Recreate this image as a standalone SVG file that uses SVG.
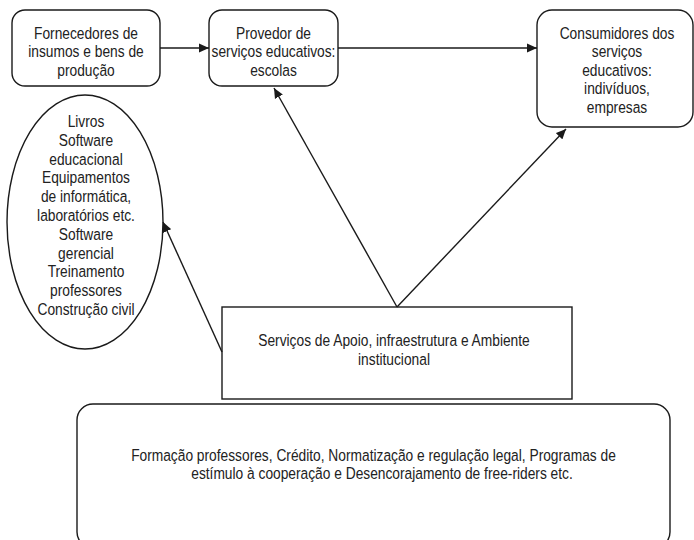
<svg xmlns="http://www.w3.org/2000/svg" width="694" height="540" viewBox="0 0 694 540">
<style>
.box{fill:#fff;stroke:#1a1a1a;stroke-width:1.4}
.lbl{font-family:"Liberation Sans",Arial,sans-serif;font-size:17px;fill:#222;text-anchor:middle}
.con{stroke:#1a1a1a;stroke-width:1.4;fill:none}
</style>
<defs>
<marker id="ah" markerUnits="userSpaceOnUse" markerWidth="12" markerHeight="10" refX="10" refY="5" orient="auto">
<path d="M0,0.5 L10,5 L0,9.5 Z" fill="#1a1a1a"/>
</marker>
</defs>
<rect width="694" height="540" fill="#fff"/>
<g id="fornecedores">
<rect class="box" x="12" y="10" width="148" height="76" rx="13"/>
<g transform="translate(86,0) scale(0.81,1)" class="lbl">
<text x="0" y="39">Fornecedores de</text>
<text x="0" y="57.5">insumos e bens de</text>
<text x="0" y="76">produção</text>
</g>
</g>
<g id="provedor">
<rect class="box" x="209" y="10" width="129" height="76" rx="13"/>
<g transform="translate(273.5,0) scale(0.81,1)" class="lbl">
<text x="0" y="39">Provedor de</text>
<text x="0" y="57.5">serviços educativos:</text>
<text x="0" y="76">escolas</text>
</g>
</g>
<g id="consumidores">
<rect class="box" x="537" y="10" width="156" height="117" rx="15"/>
<g transform="translate(617,0) scale(0.81,1)" class="lbl">
<text x="0" y="39">Consumidores dos</text>
<text x="0" y="57.5">serviços</text>
<text x="0" y="76">educativos:</text>
<text x="0" y="94.5">indivíduos,</text>
<text x="0" y="113">empresas</text>
</g>
</g>
<g id="insumos">
<ellipse class="box" cx="85" cy="222" rx="78" ry="127"/>
<g transform="translate(86,0) scale(0.81,1)" class="lbl">
<text x="0" y="127">Livros</text>
<text x="0" y="145.8">Software</text>
<text x="0" y="164.6">educacional</text>
<text x="0" y="183.4">Equipamentos</text>
<text x="0" y="202.2">de informática,</text>
<text x="0" y="221">laboratórios etc.</text>
<text x="0" y="239.8">Software</text>
<text x="0" y="258.6">gerencial</text>
<text x="0" y="277.4">Treinamento</text>
<text x="0" y="296.2">professores</text>
<text x="0" y="315">Construção civil</text>
</g>
</g>
<g id="apoio">
<rect class="box" x="222" y="307" width="350" height="92"/>
<g transform="translate(394,0) scale(0.81,1)" class="lbl">
<text x="0" y="346">Serviços de Apoio, infraestrutura e Ambiente</text>
<text x="0" y="365">institucional</text>
</g>
</g>
<g id="ambiente">
<rect class="box" x="77" y="404" width="593" height="144" rx="16"/>
<g transform="translate(373.5,0) scale(0.81,1)" class="lbl">
<text x="0" y="461">Formação professores, Crédito, Normatização e regulação legal, Programas de</text>
</g>
<g transform="translate(382,0) scale(0.81,1)" class="lbl">
<text x="0" y="479.5">estímulo à cooperação e Desencorajamento de free-riders etc.</text>
</g>
</g>
<g id="connectors">
<line class="con" x1="160" y1="48" x2="209" y2="48" marker-end="url(#ah)"/>
<line class="con" x1="338" y1="48" x2="537" y2="48" marker-end="url(#ah)"/>
<line class="con" x1="397" y1="307" x2="274" y2="88" marker-end="url(#ah)"/>
<line class="con" x1="397" y1="307" x2="566" y2="129" marker-end="url(#ah)"/>
<line class="con" x1="222" y1="352" x2="163" y2="222" marker-end="url(#ah)"/>
</g>
</svg>
